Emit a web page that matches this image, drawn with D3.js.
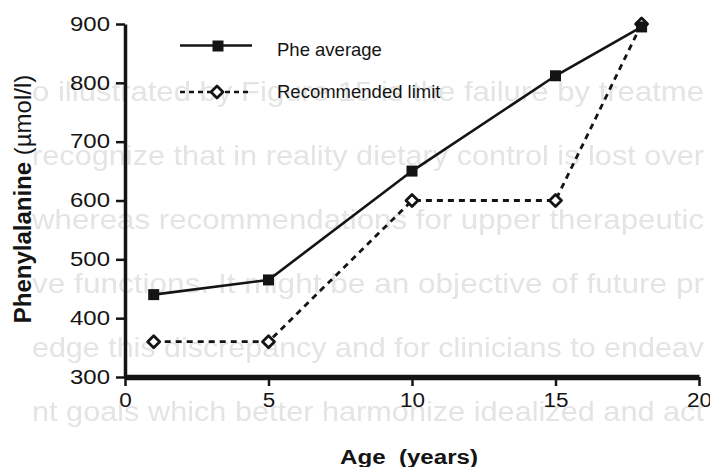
<!DOCTYPE html>
<html>
<head>
<meta charset="utf-8">
<script src="https://cdn.jsdelivr.net/npm/d3@7"></script>
<style>
  html, body { margin: 0; padding: 0; background: #fff; }
  svg { display: block; }
</style>
</head>
<body>
<script>
// Phenylalanine levels by age: measured average vs. recommended upper limit
const ages = [1, 5, 10, 15, 18];
const pheAverage = [440, 465, 650, 812, 895];
const recommendedLimit = [360, 360, 600, 600, 900];
const seriesNames = ["Phe average", "Recommended limit"];
const xTicks = [0, 5, 10, 15, 20];
const yTicks = [300, 400, 500, 600, 700, 800, 900];
const xTitle = "Age\u00a0\u00a0(years)";
const yTitleMain = "Phenylalanine";
const yTitleUnit = " (\u00b5mol/l)";

// Faint printed text from the reverse of the page, showing through the paper
const showThroughLines = [
  "o illustrated by Figure 15 is the failure by treatme",
  "recognize that in reality dietary control is lost over",
  "whereas recommendations for upper therapeutic",
  "ve functions. It might be an objective of future pr",
  "edge this discrepancy and for clinicians to endeav",
  "nt goals which better harmonize idealized and act"
];

const W = 710, H = 467;
const INK = "#141414";
const FONT = "'Liberation Sans', Arial, Helvetica, sans-serif";

const svg = d3.select("body").append("svg")
  .attr("width", W).attr("height", H)
  .attr("font-family", FONT);

svg.append("rect").attr("width", W).attr("height", H).attr("fill", "#fff");

// show-through layer: narrow, pale lettering behind the chart
svg.append("g")
  .attr("fill", "#e4e4e4")
  .attr("font-size", 28)
  .style("filter", "blur(0.6px)")
  .selectAll("text")
  .data(showThroughLines)
  .join("text")
  .attr("x", 32)
  .attr("y", (d, i) => 101 + i * 64)
  .attr("textLength", 672)
  .attr("lengthAdjust", "spacingAndGlyphs")
  .text(d => d);

const x = d3.scaleLinear().domain([0, 20]).range([125, 699]);
const y = d3.scaleLinear().domain([300, 900]).range([377, 24]);

// y axis
const yAxis = svg.append("g")
  .attr("transform", "translate(125,0)")
  .call(d3.axisLeft(y).tickValues(yTicks).tickSize(9).tickPadding(6).tickSizeOuter(0));
yAxis.select(".domain").attr("stroke", INK).attr("stroke-width", 3.5);
yAxis.selectAll(".tick line").attr("stroke", INK).attr("stroke-width", 2.5);
yAxis.selectAll(".tick text")
  .attr("fill", INK)
  .attr("font-family", FONT)
  .attr("font-size", 19.5)
  .attr("textLength", 40)
  .attr("lengthAdjust", "spacingAndGlyphs");

// x axis
const xAxis = svg.append("g")
  .attr("transform", "translate(0,377)")
  .call(d3.axisBottom(x).tickValues(xTicks).tickSize(9).tickPadding(7).tickSizeOuter(0));
xAxis.select(".domain").attr("stroke", INK).attr("stroke-width", 5.5);
xAxis.selectAll(".tick line").attr("stroke", INK).attr("stroke-width", 2.5);
xAxis.selectAll(".tick text")
  .attr("fill", INK)
  .attr("font-family", FONT)
  .attr("font-size", 19.5)
  .attr("textLength", d => String(d).length * 12.5)
  .attr("lengthAdjust", "spacingAndGlyphs");

// axis titles
svg.append("text")
  .attr("transform", "translate(31,199) rotate(-90)")
  .attr("text-anchor", "middle")
  .attr("font-size", 24)
  .attr("fill", INK)
  .call(t => {
    t.append("tspan").attr("font-weight", "bold").text(yTitleMain);
    t.append("tspan").text(yTitleUnit);
  });

svg.append("text")
  .attr("x", 409).attr("y", 464)
  .attr("text-anchor", "middle")
  .attr("font-size", 20)
  .attr("font-weight", "bold")
  .attr("fill", INK)
  .attr("textLength", 138)
  .attr("lengthAdjust", "spacingAndGlyphs")
  .text(xTitle);

// series
const line = d3.line().x((d, i) => x(ages[i])).y(d => y(d));
const diamondPath = "M0,-6L6,0L0,6L-6,0Z";
const SQ = 11;

svg.append("path")
  .datum(recommendedLimit)
  .attr("d", line)
  .attr("fill", "none")
  .attr("stroke", INK)
  .attr("stroke-width", 2.8)
  .attr("stroke-dasharray", "6,5");

svg.append("path")
  .datum(pheAverage)
  .attr("d", line)
  .attr("fill", "none")
  .attr("stroke", INK)
  .attr("stroke-width", 2.6);

svg.append("g").selectAll("path")
  .data(recommendedLimit)
  .join("path")
  .attr("transform", (d, i) => `translate(${x(ages[i])},${y(d)})`)
  .attr("d", diamondPath)
  .attr("fill", "#fff")
  .attr("stroke", INK)
  .attr("stroke-width", 2.8)
  .attr("stroke-linejoin", "round");

svg.append("g").selectAll("rect")
  .data(pheAverage)
  .join("rect")
  .attr("x", (d, i) => x(ages[i]) - SQ / 2)
  .attr("y", d => y(d) - SQ / 2)
  .attr("width", SQ).attr("height", SQ)
  .attr("fill", INK);

// legend
const legend = svg.append("g");
const rows = [
  { name: seriesNames[0], ly: 45.5, ty: 56, dash: null, marker: "square" },
  { name: seriesNames[1], ly: 92, ty: 97.5, dash: "5,4", marker: "diamond" }
];
rows.forEach(r => {
  legend.append("line")
    .attr("x1", 180).attr("x2", 252)
    .attr("y1", r.ly).attr("y2", r.ly)
    .attr("stroke", INK)
    .attr("stroke-width", 2.6)
    .attr("stroke-dasharray", r.dash);
  if (r.marker === "square") {
    legend.append("rect")
      .attr("x", 218 - SQ / 2).attr("y", r.ly + 0.5 - SQ / 2)
      .attr("width", SQ).attr("height", SQ)
      .attr("fill", INK);
  } else {
    legend.append("path")
      .attr("transform", `translate(217,${r.ly})`)
      .attr("d", diamondPath)
      .attr("fill", "#fff")
      .attr("stroke", INK)
      .attr("stroke-width", 2.8)
      .attr("stroke-linejoin", "round");
  }
  legend.append("text")
    .attr("x", 277).attr("y", r.ty)
    .attr("font-size", 18.5)
    .attr("fill", INK)
    .text(r.name);
});
</script>
</body>
</html>
